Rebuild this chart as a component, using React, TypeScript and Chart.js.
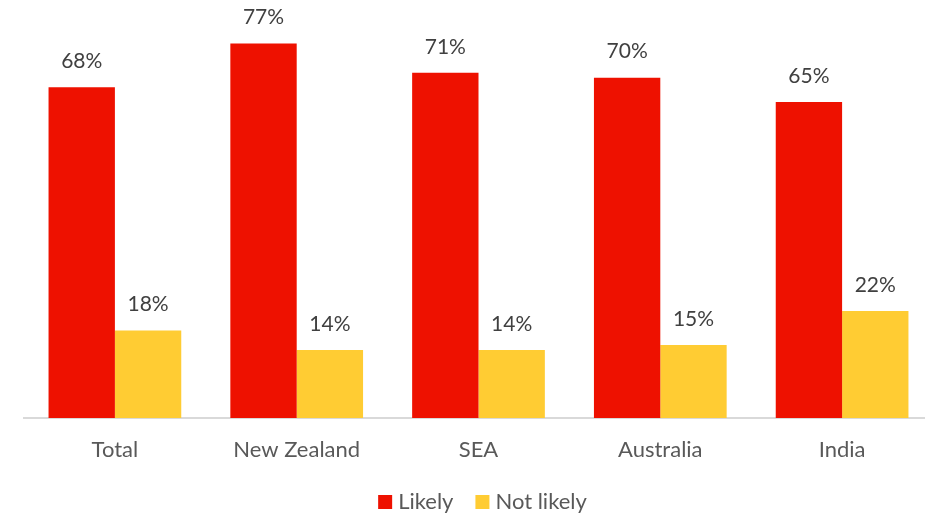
import React, { useEffect, useRef } from "react";
import { Chart, registerables } from "chart.js";

Chart.register(...registerables);

const categories = ["Total", "New Zealand", "SEA", "Australia", "India"];
const likely = [68, 77, 71, 70, 65];
const notLikely = [18, 14, 14, 15, 22];
const seriesNames = ["Likely", "Not likely"];
const colors = ["#EE1100", "#FFCC33"];

const FONT = "Lato, 'Open Sans', sans-serif";

const dataLabelPlugin = {
  id: "dataLabels",
  afterDatasetsDraw(chart: any) {
    const ctx = chart.ctx;
    ctx.save();
    ctx.font = `21px ${FONT}`;
    ctx.fillStyle = "#404040";
    ctx.textAlign = "center";
    ctx.textBaseline = "middle";
    chart.data.datasets.forEach((ds: any, di: number) => {
      const meta = chart.getDatasetMeta(di);
      meta.data.forEach((bar: any, i: number) => {
        ctx.fillText(ds.data[i] + "%", bar.x, bar.y - 26);
      });
    });
    ctx.restore();
  },
};

const legendPlugin = {
  id: "customLegend",
  afterDraw(chart: any) {
    const ctx = chart.ctx;
    const { left, right } = chart.chartArea;
    ctx.save();
    ctx.font = `22px ${FONT}`;
    ctx.textBaseline = "middle";
    const box = 14;
    const gap = 6;
    const itemGap = 22;
    const widths = chart.data.datasets.map((d: any) => box + gap + ctx.measureText(d.label).width);
    const total = widths.reduce((a: number, b: number) => a + b, 0) + itemGap * (widths.length - 1);
    let x = (left + right) / 2 + 4 - total / 2;
    const yc = 502;
    chart.data.datasets.forEach((d: any, i: number) => {
      ctx.fillStyle = d.backgroundColor;
      ctx.fillRect(x, yc - box / 2, box, box);
      ctx.fillStyle = "#595959";
      ctx.textAlign = "left";
      ctx.fillText(d.label, x + box + gap, yc);
      x += widths[i] + itemGap;
    });
    ctx.restore();
  },
};

export default function App() {
  const ref = useRef<HTMLCanvasElement | null>(null);
  useEffect(() => {
    if (!ref.current) return;
    const chart = new Chart(ref.current, {
      type: "bar",
      data: {
        labels: categories,
        datasets: [
          { label: seriesNames[0], data: likely, backgroundColor: colors[0], categoryPercentage: 0.73, barPercentage: 1 },
          { label: seriesNames[1], data: notLikely, backgroundColor: colors[1], categoryPercentage: 0.73, barPercentage: 1 },
        ],
      },
      options: {
        animation: false,
        responsive: false,
        maintainAspectRatio: false,
        layout: { padding: { top: 29, left: 24, right: 2, bottom: 36 } },
        plugins: { legend: { display: false }, tooltip: { enabled: false } },
        scales: {
          x: {
            grid: { display: false, drawTicks: false },
            border: { display: true, color: "#d9d9d9", width: 2 },
            ticks: { color: "#595959", font: { family: FONT, size: 22 }, padding: 19 },
            afterFit: (s: any) => { s.height = 60; },
          },
          y: { display: false, min: 0, max: 80 },
        },
      },
      plugins: [dataLabelPlugin, legendPlugin],
    });
    return () => chart.destroy();
  }, []);
  return (
    <div style={{ position: "fixed", left: 0, top: 0, width: 925, height: 514, overflow: "hidden", background: "#fff" }}>
      <canvas ref={ref} width={935} height={514} style={{ display: "block" }} />
    </div>
  );
}
